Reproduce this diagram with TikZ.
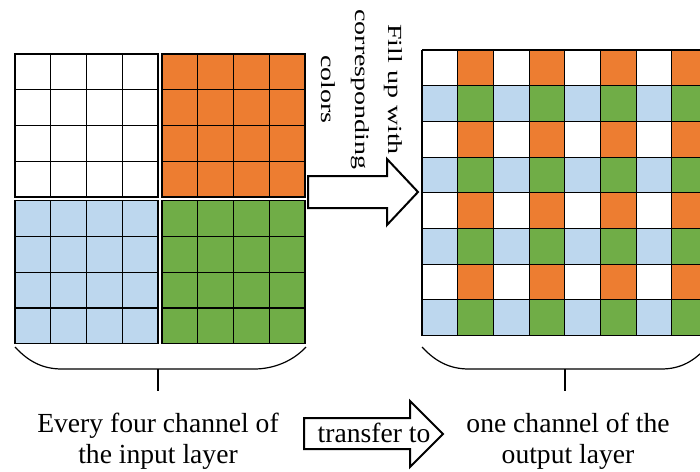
\documentclass[tikz,border=0pt]{standalone}
\usepackage{fontspec}
\setmainfont{Liberation Serif}
\newfontfamily\tallserif[FakeStretch=1.4]{Liberation Serif}
\definecolor{fillorange}{RGB}{237,125,49}
\definecolor{fillblue}{RGB}{189,215,238}
\definecolor{fillgreen}{RGB}{112,173,71}

\begin{document}
\begin{tikzpicture}[x=0.5pt,y=-0.5pt,
  gridline/.style={draw=black,line width=0.55pt},
  hollow/.style={draw=black,line width=1pt,fill=white,line join=miter},
  brace/.style={draw=black,line width=0.6pt},
  caption/.style={font=\fontsize{13.8pt}{15.5pt}\selectfont,align=center,inner sep=0pt}]

\useasboundingbox (0,0) rectangle (700,471);
\clip (0,0) rectangle (700,471);

% input layer: four 4x4 channels
\foreach \gx/\gy/\col in {15/54/white, 162/54/fillorange, 15/200.7/fillblue, 162/200.7/fillgreen} {
  \begin{scope}[shift={(\gx,\gy)}]
    \fill[\col] (0,0) rectangle (143,143);
    \foreach \k in {1,2,3} {
      \draw[gridline] ({\k*35.75},0) -- ({\k*35.75},143);
      \draw[gridline] (0,{\k*35.75}) -- (143,{\k*35.75});
    }
    \draw[gridline] (0,0) rectangle (143,143);
  \end{scope}
}

% output layer: one 8x8 channel
\begin{scope}[shift={(422,50)}]
  \fill[white] (0,0) rectangle (285.6,285.6);
  \foreach \i in {0,2,4,6} {
    \foreach \j in {0,2,4,6} {
      \fill[fillorange] ({(\j+1)*35.7},{\i*35.7}) rectangle +(35.7,35.7);
      \fill[fillblue] ({\j*35.7},{(\i+1)*35.7}) rectangle +(35.7,35.7);
      \fill[fillgreen] ({(\j+1)*35.7},{(\i+1)*35.7}) rectangle +(35.7,35.7);
    }
  }
  \foreach \k in {0,...,8} {
    \draw[gridline] ({\k*35.7},0) -- ({\k*35.7},285.6);
    \draw[gridline] (0,{\k*35.7}) -- (285.6,{\k*35.7});
  }
\end{scope}

% braces
\draw[brace] (15,347) .. controls (28,361) and (42,369) .. (62,369) -- (254,369)
  .. controls (274,369) and (293,361) .. (306,347);
\draw[brace] (158,369) -- (158,391);
\draw[brace] (422,347) .. controls (435,361) and (449,369) .. (469,369) -- (661,369)
  .. controls (681,369) and (694,361) .. (707,347);
\draw[brace] (565,369) -- (565,391);

% arrows
\draw[hollow] (308,176) -- (387,176) -- (387,159) -- (418,192) -- (387,225)
  -- (387,208) -- (308,208) -- cycle;
\draw[hollow] (304,418) -- (410,418) -- (410,401) -- (443,434) -- (410,467)
  -- (410,449) -- (304,449) -- cycle;

% texts
\node[caption,font=\tallserif\fontsize{10pt}{16.75pt}\selectfont,rotate=-90] (filltext) at (362,89.5) {Fill up with\\corresponding\\colors};
\node[caption] (inputtext) at (158,441) {Every four channel of\\the input layer};
\node[caption] (transfertext) at (374,432.5) {transfer to};
\node[caption] (outputtext) at (568,441) {one channel of the\\output layer};
\end{tikzpicture}
\end{document}
